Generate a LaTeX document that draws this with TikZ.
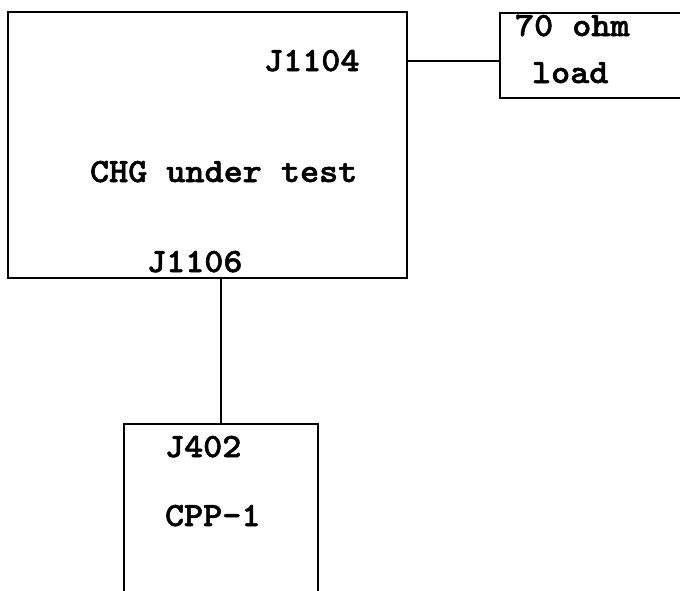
\documentclass[tikz,border=0pt]{standalone}
\usepackage{fontspec}
\newfontfamily\twfont[Extension=.otf,FakeStretch=1.07,FakeBold=1.5]{lmmonolt10-bold}
\begin{document}
\begin{tikzpicture}[x=1pt,y=-1pt,line width=2pt,
  box/.style={draw,line width=2pt,inner sep=0pt,outer sep=0pt},
  lbl/.style={font=\twfont\fontsize{34}{34}\selectfont,inner sep=0pt,anchor=base west}]
\useasboundingbox (0,0) rectangle (680,590);
\clip (0,0) rectangle (680,590);
% boxes
\node[box,minimum width=399pt,minimum height=266pt] (chg) at (207.5,145) {};
\node[box,minimum width=240pt,minimum height=85pt,anchor=north west] (load) at (500,13) {};
\node[box,minimum width=194pt,minimum height=220pt,anchor=north west] (cpp) at (124,424) {};
% labels
\node[lbl] (j1104) at (263,71) {J1104};
\node[lbl] (chgtxt) at (89,182) {CHG under test};
\node[lbl] (j1106) at (146,272) {J1106};
\node[lbl] (ohm) at (514,36) {70 ohm};
\node[lbl] (loadtxt) at (531,83) {load};
\node[lbl] (j402) at (164,457) {J402};
\node[lbl] (cpptxt) at (164,526) {CPP-1};
% connectors
\coordinate (lvl) at (0,61);
\draw (chg.east |- lvl) -- (load.west |- lvl);
\draw (cpp.north) -- (cpp.north |- chg.south);
\end{tikzpicture}
\end{document}
